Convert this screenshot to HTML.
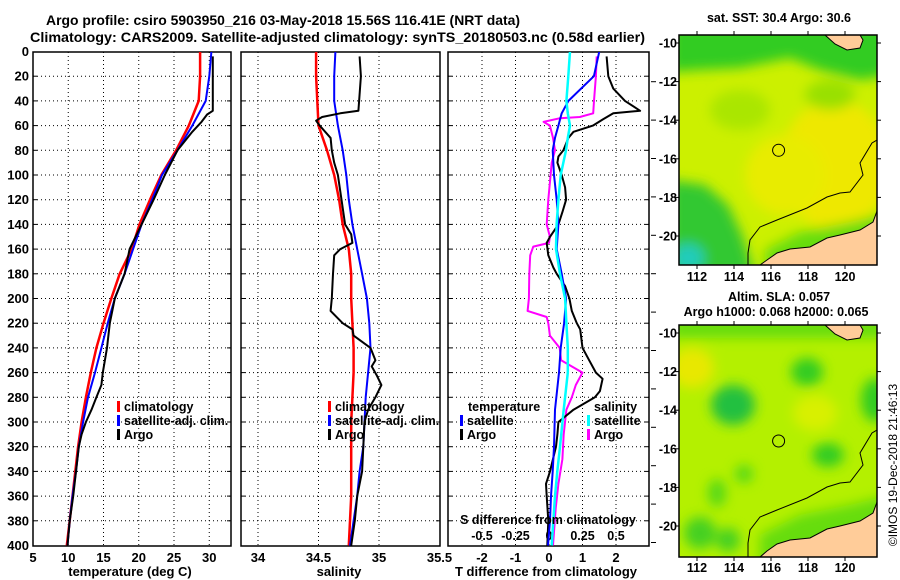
<!DOCTYPE html>
<html><head><meta charset="utf-8"><style>
html,body{margin:0;padding:0;background:#fff;}
svg{display:block;font-family:"Liberation Sans",sans-serif;font-weight:bold;}
</style></head><body>
<svg id="fig" width="900" height="580" viewBox="0 0 900 580" xmlns="http://www.w3.org/2000/svg">
<defs>
<clipPath id="cT"><rect x="33" y="52" width="198" height="494"/></clipPath>
<clipPath id="cS"><rect x="241" y="52" width="199" height="494"/></clipPath>
<clipPath id="cD"><rect x="448" y="52" width="201" height="494"/></clipPath>
<clipPath id="cM1"><rect x="679" y="35" width="198" height="230"/></clipPath>
<clipPath id="cM2"><rect x="679" y="325" width="198" height="232"/></clipPath>
<filter id="blur" x="-20%" y="-20%" width="140%" height="140%"><feGaussianBlur stdDeviation="6"/></filter>
</defs>
<text x="46" y="25" font-size="14" textLength="474" lengthAdjust="spacingAndGlyphs">Argo profile: csiro 5903950_216 03-May-2018 15.56S 116.41E (NRT data)</text>
<text x="30" y="42" font-size="14" textLength="615" lengthAdjust="spacingAndGlyphs">Climatology: CARS2009. Satellite-adjusted climatology: synTS_20180503.nc (0.58d earlier)</text>

<g id="grids"></g>
<g id="series"></g>

<g font-size="12.5">
<rect x="117" y="401" width="3" height="11" fill="#f00"/><text x="124" y="411">climatology</text>
<rect x="117" y="415" width="3" height="11" fill="#00f"/><text x="124" y="425">satellite-adj. clim.</text>
<rect x="117" y="429" width="3" height="11" fill="#000"/><text x="124" y="439">Argo</text>
</g>
<g font-size="12.5">
<rect x="328" y="401" width="3" height="11" fill="#f00"/><text x="335" y="411">climatology</text>
<rect x="328" y="415" width="3" height="11" fill="#00f"/><text x="335" y="425">satellite-adj. clim.</text>
<rect x="328" y="429" width="3" height="11" fill="#000"/><text x="335" y="439">Argo</text>
</g>
<g font-size="12.5">
<text x="468" y="411">temperature</text>
<rect x="460" y="415" width="3" height="11" fill="#00f"/><text x="467" y="425">satellite</text>
<rect x="460" y="429" width="3" height="11" fill="#000"/><text x="467" y="439">Argo</text>
<text x="594" y="411">salinity</text>
<rect x="587" y="415" width="3" height="11" fill="#0ff"/><text x="594" y="425">satellite</text>
<rect x="587" y="429" width="3" height="11" fill="#f0f"/><text x="594" y="439">Argo</text>
</g>
<text x="548" y="524" font-size="12.5" text-anchor="middle">S difference from climatology</text>

<text x="130" y="576" font-size="13" text-anchor="middle">temperature (deg C)</text>
<text x="339" y="576" font-size="13" text-anchor="middle">salinity</text>
<text x="546" y="576" font-size="13" text-anchor="middle">T difference from climatology</text>

<g>
<g clip-path="url(#cM1)">
<rect x="679" y="35" width="198" height="230" fill="#ccf000"/>
<g filter="url(#blur)">
<ellipse cx="835" cy="165" rx="55" ry="65" fill="#eee800"/>
<ellipse cx="785" cy="175" rx="40" ry="40" fill="#e8ec00"/>
<path d="M670,25 L890,25 L890,75 L860,80 L820,70 L790,58 L740,68 L700,70 L670,72 Z" fill="#33cc22"/>
<path d="M670,180 L705,185 L728,205 L742,235 L755,275 L670,275 Z" fill="#33c830"/>
<ellipse cx="688" cy="258" rx="16" ry="14" fill="#22ccbb"/>
<path d="M765,250 L800,232 L850,222 L890,212 L890,275 L765,275 Z" fill="#66dd11"/>
<ellipse cx="740" cy="110" rx="30" ry="20" fill="#aae600"/>
<ellipse cx="830" cy="95" rx="25" ry="15" fill="#99e000"/>
</g>
<path d="M877,211 L873,222 L860,230 L840,235 L827,238 L810,247 L790,249 L777,253 L767,260 L760,265 L877,265 Z" fill="#ffcc99" stroke="#000" stroke-width="1"/>
<path d="M825,35 L835,44 L847,50 L860,48 L863,40 L860,35 Z" fill="#ffcc99" stroke="#000" stroke-width="1"/>
<path d="M877,140 L872,143 L860,163 L863,175 L850,192 L840,193 L827,197 L807,208 L777,220 L760,227 L750,240 L748,253 L748,265" fill="none" stroke="#000" stroke-width="1"/>
<circle cx="778.6" cy="150.3" r="6" fill="none" stroke="#000" stroke-width="1"/>
</g>
<rect x="679" y="35" width="198" height="230" fill="none" stroke="#000" stroke-width="1.5"/>
</g>
<text x="779" y="22" font-size="12.5" text-anchor="middle">sat. SST: 30.4 Argo: 30.6</text>

<g>
<g clip-path="url(#cM2)">
<rect x="679" y="325" width="198" height="232" fill="#b4f000"/>
<g filter="url(#blur)">
<rect x="670" y="318" width="220" height="20" fill="#66dd11"/>
<ellipse cx="692" cy="368" rx="22" ry="20" fill="#e8e800"/>
<ellipse cx="815" cy="413" rx="22" ry="18" fill="#d8f000"/>
<ellipse cx="733" cy="405" rx="22" ry="20" fill="#22c040"/>
<ellipse cx="807" cy="372" rx="16" ry="14" fill="#33cc22"/>
<ellipse cx="875" cy="400" rx="14" ry="22" fill="#33cc22"/>
<ellipse cx="828" cy="455" rx="16" ry="12" fill="#33cc22"/>
<ellipse cx="744" cy="474" rx="9" ry="9" fill="#55d818"/>
<ellipse cx="717" cy="493" rx="9" ry="14" fill="#55d818"/>
<ellipse cx="700" cy="533" rx="16" ry="16" fill="#44d020"/>
<ellipse cx="728" cy="540" rx="12" ry="12" fill="#44d020"/>
<path d="M760,535 L800,515 L850,505 L890,495 L890,565 L760,565 Z" fill="#66dd11"/>
</g>
<path d="M877,502 L873,513 L860,521 L840,526 L827,529 L810,538 L790,540 L777,544 L767,551 L760,557 L877,557 Z" fill="#ffcc99" stroke="#000" stroke-width="1"/>
<path d="M825,325 L835,334 L847,340 L860,338 L863,330 L860,325 Z" fill="#ffcc99" stroke="#000" stroke-width="1"/>
<path d="M877,430 L872,433 L860,453 L863,465 L850,482 L840,483 L827,487 L807,498 L777,510 L760,517 L750,530 L748,543 L748,557" fill="none" stroke="#000" stroke-width="1"/>
<circle cx="778.6" cy="441" r="6" fill="none" stroke="#000" stroke-width="1"/>
</g>
<rect x="679" y="325" width="198" height="232" fill="none" stroke="#000" stroke-width="1.5"/>
</g>
<text x="779" y="301" font-size="12.5" text-anchor="middle">Altim. SLA: 0.057</text>
<text x="776" y="316" font-size="12.5" text-anchor="middle">Argo h1000: 0.068 h2000: 0.065</text>
<text transform="translate(897,465) rotate(-90)" font-size="12" font-weight="normal" text-anchor="middle">©IMOS 19-Dec-2018 21:46:13</text>
<g id="mapaxes"></g>
</svg>
<script>
const depthTicks = [0,20,40,60,80,100,120,140,160,180,200,220,240,260,280,300,320,340,360,380,400];
const tempTicks = [5,10,15,20,25,30];
const salTicks = [34,34.5,35,35.5];
const salTickLabels = ["34","34.5","35","35.5"];
const tDiffTicks = [-2,-1,0,1,2];
const sDiffTicks = [-0.5,-0.25,0,0.25,0.5];
const sDiffTickLabels = ["-0.5","-0.25","0","0.25","0.5"];
const lonTicks = [112,114,116,118,120];
const latTicks = [-10,-12,-14,-16,-18,-20];

const climDepth = [0,20,40,60,80,100,120,140,160,180,200,220,240,260,280,300,320,340,360,380,400];
const tClim = [28.7,28.7,28.5,27.1,25.3,23.2,21.6,20.1,19.0,17.3,16.1,15.0,14.0,13.2,12.5,11.9,11.4,11.0,10.6,10.2,9.8];
const tSat = [30.3,30.0,29.5,27.6,25.5,23.3,21.9,20.4,19.2,18.0,16.6,15.6,14.7,13.8,12.8,12.1,11.5,11.1,10.6,10.2,9.9];
const argoTDepth = [4,20,48,51,57,65,80,100,120,140,160,180,200,220,240,250,260,270,280,290,300,310,320,340,360,380,400];
const argoT = [30.5,30.5,30.5,29.7,28.9,27.6,25.5,23.7,22.1,20.4,18.7,18.0,16.6,15.9,15.5,15.2,14.9,14.7,14.0,13.3,12.5,11.9,11.5,11.1,10.7,10.2,9.9];

const sClim = [34.48,34.48,34.49,34.50,34.57,34.63,34.67,34.70,34.75,34.77,34.77,34.78,34.79,34.79,34.78,34.77,34.77,34.77,34.77,34.76,34.75];
const sSat = [34.64,34.63,34.63,34.66,34.70,34.73,34.75,34.78,34.82,34.86,34.90,34.92,34.93,34.91,34.89,34.88,34.87,34.84,34.82,34.79,34.76];
const argoSDepth = [4,20,48,50,53,56,60,70,80,90,100,120,140,148,155,160,165,180,200,210,220,225,230,240,250,255,262,270,280,290,300,320,340,360,380,400];
const argoS = [34.84,34.85,34.83,34.68,34.53,34.48,34.51,34.60,34.61,34.63,34.66,34.69,34.72,34.77,34.78,34.68,34.63,34.62,34.61,34.60,34.70,34.78,34.79,34.93,34.97,34.94,34.98,35.02,34.97,34.91,34.88,34.87,34.86,34.82,34.80,34.77];

const satDiffDepth = [0,20,40,50,60,70,80,100,120,140,160,180,200,220,240,260,290,320,340,360,380,400];
const dTSat = [1.5,1.34,0.58,0.38,0.28,0.18,0.11,0.15,0.23,0.28,0.23,0.38,0.51,0.45,0.35,0.3,0.18,0.15,0.11,0.06,0.03,-0.03];
const dSSat = [0.157,0.144,0.13,0.14,0.157,0.14,0.127,0.087,0.07,0.057,0.052,0.082,0.12,0.13,0.14,0.14,0.11,0.082,0.062,0.045,0.032,0.02];
const argoDTDepth = [4,20,30,40,48,50,55,60,65,70,80,85,90,100,110,120,130,140,150,155,165,175,180,190,200,210,220,225,240,250,260,265,275,280,290,300,310,320,340,350,360,380,400];
const dTArgo = [1.72,1.77,1.92,2.27,2.72,1.92,1.61,1.31,0.73,0.58,0.43,0.28,0.25,0.38,0.48,0.51,0.4,0.28,0.03,-0.07,-0.02,0.13,0.23,0.48,0.61,0.68,0.83,0.93,1.0,1.2,1.4,1.6,1.52,1.37,0.73,0.28,0.25,0.21,0.03,-0.09,-0.07,-0.02,-0.05];
const argoDSDepth = [4,20,40,50,53,54,57,60,70,80,90,100,120,140,150,155,158,165,180,200,210,215,220,230,240,250,260,270,280,290,310,330,350,370,400];
const dSArgo = [0.356,0.35,0.336,0.33,0.23,0.082,-0.04,0.007,0.03,0.045,0.02,0.012,-0.005,-0.017,0.007,0.0,-0.117,-0.14,-0.147,-0.15,-0.16,-0.017,-0.005,0.007,0.08,0.09,0.25,0.2,0.17,0.13,0.11,0.1,0.07,0.05,0.03];

const NS = "http://www.w3.org/2000/svg";
const yD = d => 51.5 + d * 1.235;
const xT = t => 33 + (t - 5) * 7.05;
const xS = s => 258 + (s - 34) * 121;
const xDT = v => 549 + v * 33.5;
const xDS = v => 549 + v * 134;
const xLon = l => 697 + (l - 112) * 18.5;
const yLat1 = l => 43 + (-10 - l) * 19.3;
const yLat2 = l => 333 + (-10 - l) * 19.3;

function mk(tag, attrs, parent) {
  const e = document.createElementNS(NS, tag);
  for (const k in attrs) e.setAttribute(k, attrs[k]);
  parent.appendChild(e);
  return e;
}
const grids = document.getElementById('grids');
const series = document.getElementById('series');
const mapaxes = document.getElementById('mapaxes');

const panels = [
  {x0:33, x1:231, ticks:tempTicks, labels:tempTicks.map(String), sc:xT, name:'temperature'},
  {x0:241, x1:440, ticks:salTicks, labels:salTickLabels, sc:xS, name:'salinity'},
  {x0:448, x1:649, ticks:tDiffTicks, labels:tDiffTicks.map(String), sc:xDT, name:'difference'}
];
panels.forEach(p => {
  const g = mk('g', {}, grids);
  
  
  depthTicks.forEach(d => {
    if (d === 0 || d === 400) return;
    mk('line', {x1:p.x0, x2:p.x1, y1:yD(d), y2:yD(d), stroke:'#000', 'stroke-width':1, 'stroke-dasharray':'1,3'}, g);
    mk('line', {x1:p.x0, x2:p.x0+4, y1:yD(d), y2:yD(d), stroke:'#000', 'stroke-width':1}, g);
    mk('line', {x1:p.x1-4, x2:p.x1, y1:yD(d), y2:yD(d), stroke:'#000', 'stroke-width':1}, g);
  });
  p.ticks.forEach((t, i) => {
    const x = p.sc(t);
    if (x > p.x0 + 2 && x < p.x1 - 2) {
      mk('line', {x1:x, x2:x, y1:52, y2:546, stroke:'#000', 'stroke-width':1, 'stroke-dasharray':'1,3'}, g);
    }
    const tl = mk('text', {x:x, y:562, 'font-size':13, 'text-anchor':'middle'}, g);
    tl.textContent = p.labels[i];
    
    
  });
  const fr = mk('rect', {x:p.x0, y:52, width:p.x1-p.x0, height:494, fill:'none', stroke:'#000', 'stroke-width':1.5}, g);
  
  
});
depthTicks.forEach(d => {
  const t = mk('text', {x:29, y:yD(d)+4.5, 'font-size':13, 'text-anchor':'end'}, grids);
  t.textContent = d;
  
  
});
sDiffTicks.forEach((v, i) => {
  const t = mk('text', {x:xDS(v), y:540, 'font-size':12.5, 'text-anchor':'middle'}, grids);
  t.textContent = sDiffTickLabels[i];
  
  
});
for (let y = 81.7; y < 545; y += 38.4) {
  mk('line', {x1:651, x2:656, y1:y, y2:y, stroke:'#000', 'stroke-width':1}, grids);
}

function drawLine(depths, vals, sc, color, clip, name, w) {
  const pts = depths.map((d, i) => sc(vals[i]).toFixed(1) + ',' + yD(d).toFixed(1)).join(' ');
  const pl = mk('polyline', {points:pts, fill:'none', stroke:color, 'stroke-width':w || 2, 'clip-path':'url(#' + clip + ')', 'stroke-linejoin':'round'}, series);
  
  
}
drawLine(climDepth, tClim, xT, '#f00', 'cT', 'temperature-climatology-line', 2.5);
drawLine(climDepth, tSat, xT, '#00f', 'cT', 'temperature-satellite-line', 2);
drawLine(argoTDepth, argoT, xT, '#000', 'cT', 'temperature-argo-line', 2);
drawLine(climDepth, sClim, xS, '#f00', 'cS', 'salinity-climatology-line', 2.5);
drawLine(climDepth, sSat, xS, '#00f', 'cS', 'salinity-satellite-line', 2);
drawLine(argoSDepth, argoS, xS, '#000', 'cS', 'salinity-argo-line', 2);
drawLine(argoDSDepth, dSArgo, xDS, '#f0f', 'cD', 'salinity-argo-difference-line', 2);
drawLine(argoDTDepth, dTArgo, xDT, '#000', 'cD', 'temperature-argo-difference-line', 2);
drawLine(satDiffDepth, dTSat, xDT, '#00f', 'cD', 'temperature-satellite-difference-line', 2);
drawLine(satDiffDepth, dSSat, xDS, '#0ff', 'cD', 'salinity-satellite-difference-line', 2.5);

[[yLat1, 35, 265, 281], [yLat2, 325, 557, 572]].forEach(m => {
  const [yl, top, bot, ly] = m;
  lonTicks.forEach(l => {
    const x = xLon(l);
    mk('line', {x1:x, x2:x, y1:bot, y2:bot+4, stroke:'#000'}, mapaxes);
    mk('line', {x1:x, x2:x, y1:top, y2:top-4, stroke:'#000'}, mapaxes);
    const t = mk('text', {x:x, y:ly, 'font-size':12.5, 'text-anchor':'middle'}, mapaxes);
    t.textContent = l;
    
    
  });
  latTicks.forEach(l => {
    const y = yl(l);
    mk('line', {x1:675, x2:679, y1:y, y2:y, stroke:'#000'}, mapaxes);
    mk('line', {x1:877, x2:881, y1:y, y2:y, stroke:'#000'}, mapaxes);
    const t = mk('text', {x:677, y:y+4.5, 'font-size':12.5, 'text-anchor':'end'}, mapaxes);
    t.textContent = l;
    
    
  });
});
</script>
</body></html>
